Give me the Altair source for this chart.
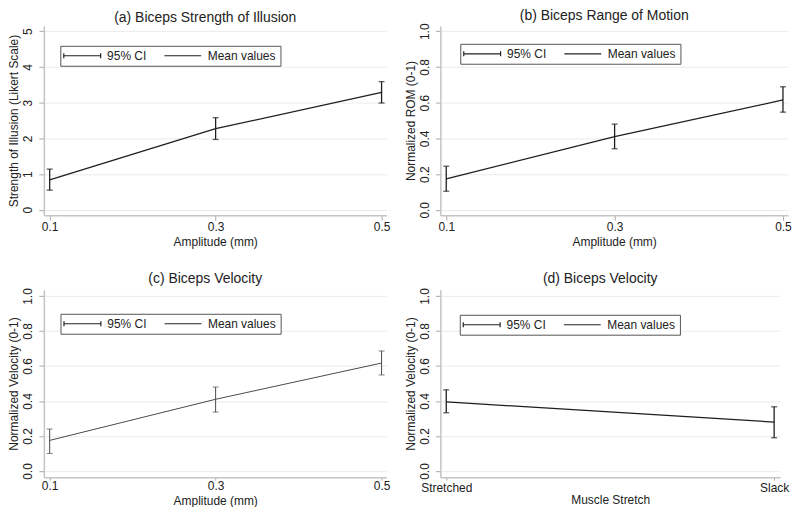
import altair as alt
import pandas as pd

amplitude = [0.1, 0.3, 0.5]
a_mean = [0.84, 2.27, 3.29]
a_lo = [0.55, 1.97, 2.99]
a_hi = [1.14, 2.58, 3.59]
b_mean = [0.173, 0.41, 0.615]
b_lo = [0.104, 0.342, 0.547]
b_hi = [0.244, 0.48, 0.689]
c_mean = [0.175, 0.41, 0.617]
c_lo = [0.10, 0.337, 0.549]
c_hi = [0.24, 0.48, 0.686]
stretch = ["Stretched", "Slack"]
d_mean = [0.395, 0.28]
d_lo = [0.333, 0.19]
d_hi = [0.464, 0.367]
legend_items = ["95% CI", "Mean values"]
ticks_a = [0, 1, 2, 3, 4, 5]
ticks_unit = [0, 0.2, 0.4, 0.6, 0.8, 1.0]

FONT = "Liberation Sans"
TXT = "#222222"
AXC = "#c4c4c4"
CI_PATH = "M-3.7,-0.5V0.5M-3.7,0H3.7M3.7,-0.5V0.5"
LINE_PATH = "M-3.7,0H3.7"


def panel(xv, mean, lo, hi, xkind, ydom, yticks, yfmt, ytitle, xtitle, title,
          lx, ly, width, height, toff, xlabpad, xtick, xtitpad, color="#1e1e1e", sw=1.3):
    df = pd.DataFrame({"x": xv, "mean": mean, "lo": lo, "hi": hi})
    if xkind == "Q":
        x = alt.X("x:Q", scale=alt.Scale(domain=[0.093, 0.506], nice=False, zero=False),
                  axis=alt.Axis(values=amplitude, format=".1f", title=xtitle, grid=False,
                                labelAngle=0, labelPadding=xlabpad, tickSize=xtick,
                                titlePadding=xtitpad))
    else:
        x = alt.X("x:N", sort=stretch, scale=alt.Scale(type="point", padding=0.018),
                  axis=alt.Axis(title=xtitle, grid=False, labelAngle=0, tickSize=xtick,
                                labelPadding=xlabpad, titlePadding=xtitpad))

    def y(field):
        return alt.Y(field, type="quantitative",
                     scale=alt.Scale(domain=ydom, nice=False, zero=False),
                     axis=alt.Axis(values=yticks, format=yfmt, title=ytitle, grid=True,
                                   gridColor="#ebebeb", labelAngle=270, labelAlign="center",
                                   labelBaseline="bottom"))

    base = alt.Chart(df)
    line = base.mark_line(color=color, strokeWidth=sw).encode(x=x, y=y("mean"))
    rule = base.mark_rule(color=color, strokeWidth=sw).encode(x=x, y=y("lo"), y2=alt.Y2("hi"))
    t_lo = base.mark_tick(orient="horizontal", size=6, thickness=sw, color=color).encode(x=x, y=y("lo"))
    t_hi = base.mark_tick(orient="horizontal", size=6, thickness=sw, color=color).encode(x=x, y=y("hi"))
    leg = alt.Chart(pd.DataFrame({"item": legend_items})).mark_point(
        opacity=0, filled=False).encode(
        x=alt.value(0), y=alt.value(0),
        shape=alt.Shape("item:N",
                        scale=alt.Scale(domain=legend_items, range=[CI_PATH, LINE_PATH]),
                        legend=alt.Legend(orient="none", legendX=lx, legendY=ly,
                                          direction="horizontal", columns=2, title=None,
                                          labelFont=FONT, labelFontSize=12, labelColor=TXT,
                                          symbolSize=100, symbolStrokeWidth=1.2,
                                          symbolStrokeColor="#222222",
                                          symbolFillColor="transparent", symbolOpacity=1,
                                          symbolOffset=12, labelOffset=19, columnPadding=15,
                                          padding=4, strokeColor="#555555",
                                          fillColor="white")))
    return alt.layer(line, rule, t_lo, t_hi, leg).properties(
        width=width, height=height,
        title=alt.TitleParams(title, font=FONT, fontSize=14, fontWeight="normal",
                              color=TXT, anchor="middle", dx=-10, offset=toff))


pa = panel(amplitude, a_mean, a_lo, a_hi, "Q", [-0.15, 5.15], ticks_a, "d",
           "Strength of Illusion (Likert Scale)", "Amplitude (mm)",
           "(a) Biceps Strength of Illusion", 16.5, 20, 344, 190, 0, 1, 5, 4)
pb = panel(amplitude, b_mean, b_lo, b_hi, "Q", [-0.03, 1.03], ticks_unit, ".1f",
           "Normalized ROM (0-1)", "Amplitude (mm)",
           "(b) Biceps Range of Motion", 20, 18, 349, 190, 0, 1, 5, 4)
pc = panel(amplitude, c_mean, c_lo, c_hi, "Q", [-0.035, 1.035], ticks_unit, ".1f",
           "Normalized Velocity (0-1)", "Amplitude (mm)",
           "(c) Biceps Velocity", 16.7, 24, 344, 188, 2, 0, 3, 4, color="#4a4a4a", sw=1.0)
pd_ = panel(stretch, d_mean, d_lo, d_hi, "N", [-0.035, 1.035], ticks_unit, ".1f",
            "Normalized Velocity (0-1)", "Muscle Stretch",
            "(d) Biceps Velocity", 19.5, 25, 341, 188, 2, 2, 3, 1)

chart = alt.concat(pa, pb, pc, pd_, columns=2, spacing={"row": 24, "column": 14}).resolve_scale(
    x="independent", y="independent", shape="independent"
).resolve_legend(shape="independent").properties(
    padding={"left": 0, "top": 0, "right": 0, "bottom": 0}
).configure_view(stroke=None).configure_axis(
    labelFont=FONT, titleFont=FONT, labelFontSize=12, titleFontSize=12,
    labelColor=TXT, titleColor=TXT, titleFontWeight="normal",
    domainColor=AXC, domainWidth=1.5, tickColor="#aaaaaa", tickSize=5,
    labelPadding=4, titlePadding=2
).configure_axisY(titlePadding=1)

chart.save("out.html", embed_options={"renderer": "svg", "actions": False})
